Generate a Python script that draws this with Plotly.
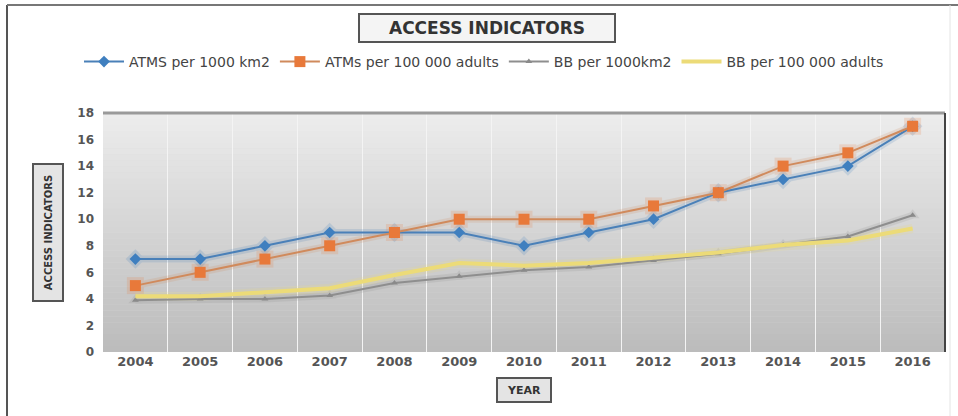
import plotly.graph_objects as go

years = ["2004", "2005", "2006", "2007", "2008", "2009", "2010",
         "2011", "2012", "2013", "2014", "2015", "2016"]
atms_km2 = [7, 7, 8, 9, 9, 9, 8, 9, 10, 12, 13, 14, 17]
atms_adults = [5, 6, 7, 8, 9, 10, 10, 10, 11, 12, 14, 15, 17]
bb_km2 = [3.9, 4.0, 4.0, 4.25, 5.2, 5.7, 6.15, 6.4, 6.9, 7.4, 8.05, 8.7, 10.3]
bb_adults = [4.2, 4.2, 4.5, 4.8, 5.8, 6.7, 6.5, 6.7, 7.1, 7.5, 8.05, 8.4, 9.3]
y_ticks = [0, 2, 4, 6, 8, 10, 12, 14, 16, 18]

W, H = 958, 416
L, R, T, B = 103, 13, 113, 64
pw, ph = W - L - R, H - T - B

def px_x(x):
    return (x - L) / pw

def px_y(y):
    return (H - B - y) / ph

series = [
    ("ATMS per 1000 km2", atms_km2, "#4a80b8", "#3f7fbf", "diamond", 9, 2),
    ("ATMs per 100 000 adults", atms_adults, "#d08a5c", "#e8793a", "square", 11, 2),
    ("BB per 1000km2", bb_km2, "#8e8e8e", "#8a8a8a", "triangle-up", 6, 2),
    ("BB per 100 000 adults", bb_adults, "#ecdb78", "#ecdb78", "line-ew", 4, 4),
]

fig = go.Figure()
# soft glow under each line
for name, vals, lc, mc, sym, ms, lw in series:
    fig.add_trace(go.Scatter(x=years, y=vals, mode="lines+markers", showlegend=False,
                             hoverinfo="skip",
                             line=dict(color=lc, width=lw + 5), opacity=0.18,
                             marker=dict(symbol=sym, size=ms + 6, color=mc)))
for name, vals, lc, mc, sym, ms, lw in series:
    mode = "lines" if sym == "line-ew" else "lines+markers"
    fig.add_trace(go.Scatter(x=years, y=vals, mode=mode, name=name,
                             line=dict(color=lc, width=lw),
                             marker=dict(symbol=sym, size=ms, color=mc)))

shapes = []
# gradient plot background
n = 40
top_c = (236, 236, 236)
bot_c = (188, 188, 188)
for i in range(n):
    t = i / (n - 1)
    c = tuple(int(round(bot_c[k] + (top_c[k] - bot_c[k]) * t)) for k in range(3))
    shapes.append(dict(type="rect", xref="x domain", yref="y domain",
                       x0=0, x1=1, y0=i / n, y1=(i + 1) / n,
                       fillcolor="rgb(%d,%d,%d)" % c, line=dict(width=0), layer="below"))
# plot area top and right borders
shapes.append(dict(type="line", xref="paper", yref="paper", x0=0, x1=1, y0=1, y1=1,
                   line=dict(color="#9a9a9a", width=3)))
shapes.append(dict(type="line", xref="paper", yref="paper", x0=1, x1=1, y0=0, y1=1,
                   line=dict(color="#444444", width=2)))
# outer chart frame
shapes.append(dict(type="line", xref="paper", yref="paper",
                   x0=px_x(7), x1=px_x(7), y0=px_y(5), y1=px_y(416),
                   line=dict(color="#555555", width=2)))
shapes.append(dict(type="line", xref="paper", yref="paper",
                   x0=px_x(7), x1=px_x(958), y0=px_y(5), y1=px_y(5),
                   line=dict(color="#777777", width=2)))
shapes.append(dict(type="line", xref="paper", yref="paper",
                   x0=px_x(950), x1=px_x(950), y0=px_y(5), y1=px_y(416),
                   line=dict(color="#e4e4e4", width=1)))

annotations = [
    dict(text="<b>ACCESS INDICATORS</b>", xref="paper", yref="paper",
         x=px_x(487), y=px_y(28), showarrow=False,
         font=dict(family="DejaVu Sans", size=17, color="#333333"),
         bordercolor="#555555", borderwidth=2, bgcolor="#f4f4f4",
         width=252, height=24, xanchor="center", yanchor="middle"),
    dict(text="<b>ACCESS INDICATORS</b>", xref="paper", yref="paper",
         x=px_x(48), y=px_y(233), showarrow=False, textangle=-90,
         font=dict(family="DejaVu Sans", size=10, color="#333333"),
         bordercolor="#555555", borderwidth=2, bgcolor="#e4e4e4",
         width=133, height=26, xanchor="center", yanchor="middle"),
    dict(text="<b>YEAR</b>", xref="paper", yref="paper",
         x=px_x(524), y=px_y(390), showarrow=False,
         font=dict(family="DejaVu Sans", size=11, color="#333333"),
         bordercolor="#555555", borderwidth=2, bgcolor="#e4e4e4",
         width=50, height=20, xanchor="center", yanchor="middle"),
]

fig.update_layout(
    width=W, height=H,
    margin=dict(l=L, r=R, t=T, b=B),
    paper_bgcolor="white", plot_bgcolor="#d8d8d8",
    shapes=shapes, annotations=annotations,
    legend=dict(orientation="h", x=px_x(484), y=px_y(62), xanchor="center", yanchor="middle",
                font=dict(family="DejaVu Sans", size=14, color="#444444"),
                itemwidth=40, tracegroupgap=0, bgcolor="rgba(0,0,0,0)"),
    xaxis=dict(type="category", range=[-0.5, 12.5], tickson="boundaries", showgrid=True,
               gridcolor="#f4f4f4", gridwidth=1, ticks="", showline=False, zeroline=False,
               tickfont=dict(family="DejaVu Sans", size=13, color="#555555", weight="bold")),
    yaxis=dict(range=[0, 18], tickvals=y_ticks, showgrid=False, zeroline=False,
               showline=False, ticks="", ticklabelstandoff=8,
               tickfont=dict(family="DejaVu Sans", size=12, color="#555555", weight="bold")),
)

fig.write_html("out.html")
